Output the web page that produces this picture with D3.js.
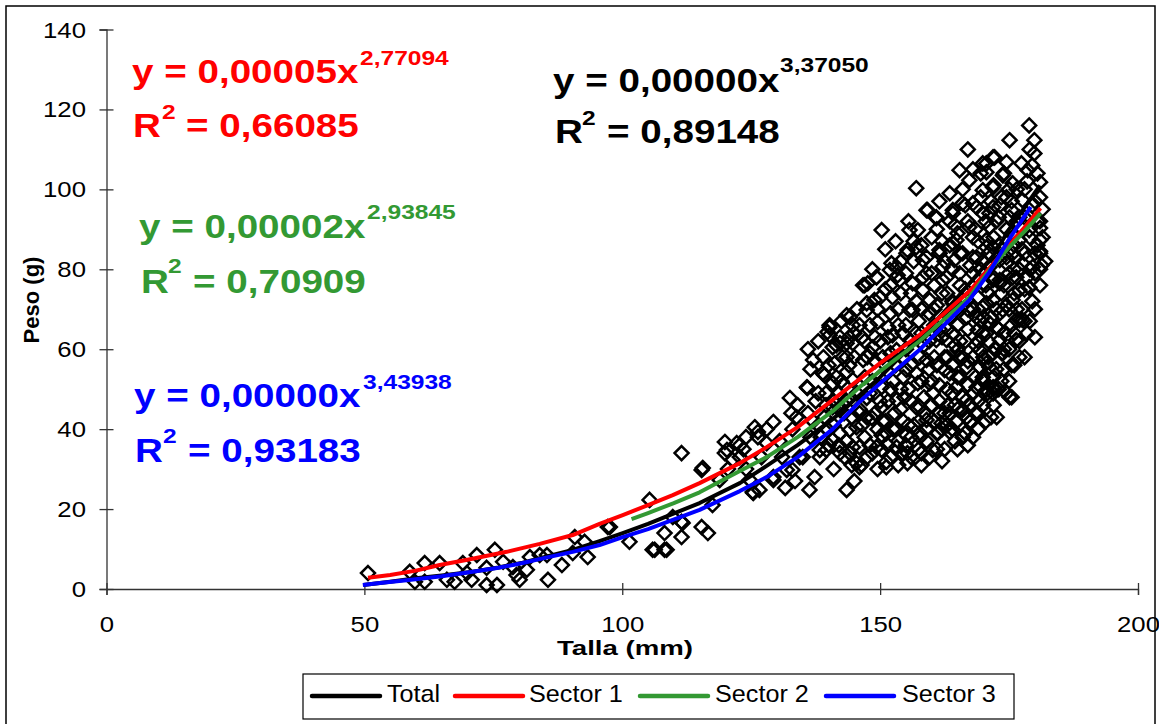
<!DOCTYPE html>
<html>
<head>
<meta charset="utf-8">
<script src="https://cdn.jsdelivr.net/npm/d3@7"></script>
<style>
html,body{margin:0;padding:0;background:#fff;}
svg{display:block;}
text{font-family:"Liberation Sans",Arial,sans-serif;}
</style>
</head>
<body>
<svg id="chart" width="1159" height="724"></svg>
<script>
// ---------- data ----------
const xTicks = [0, 50, 100, 150, 200];
const yTicks = [0, 20, 40, 60, 80, 100, 120, 140];
const seriesNames = ["Total", "Sector 1", "Sector 2", "Sector 3"];
const seriesColors = ["#000000", "#FF0000", "#339933", "#0000FF"];

// scatter observations [Talla (mm), Peso (g)]
const observations = [
[50.7,4.0],[58.8,4.3],[59.8,1.8],[61.7,6.5],[64.6,6.5],[66,2.3],[67.5,1.8],[69.1,6.5],[70.8,2.3],[71.8,8.5],
[73.7,1.0],[75.3,9.8],[75.7,1.0],[73.7,5.3],[76.9,6.8],[79.5,3.5],[80.1,2.3],[81.5,4.8],[82.1,8.0],[84,8.5],
[85.6,2.3],[85.4,8.5],[88.3,6.0],[90.4,9.0],[90.8,13.0],[92.7,11.8],[93.3,8.0],[97.2,15.5],[101.4,11.8],[105.3,22.3],
[105.9,9.8],[108.2,9.8],[108.2,14.0],[109.8,18.0],[111.5,34.0],[111.5,13.0],[111.5,16.8],[115.4,29.8],[115.4,15.5],[116.6,14.0],
[117.5,21.0],[119.9,36.8],[120.3,34.8],[121.4,32.3],[69.9,4.0],[78.8,5.5],[61.7,1.8],[97.6,15.5],[106.3,9.8],[108.6,9.8],
[111.7,16.5],[122.8,36],[125.4,24],[126.3,38],[129.3,41.8],[129.3,27.3],[131.6,25.3],[131.9,29.8],[132.5,47.8],[132.8,44],
[134.4,33],[135.9,50.3],[136.3,24.8],[137.3,28],[137,57.3],[138.3,33],[138.9,54],[139.9,39.8],[140.8,51.5],[141.2,56.5],
[142.2,45.5],[143.1,33],[143.5,61.5],[144.1,39.8],[144.7,35.5],[145.4,31.5],[143.5,54.3],[140.2,63.5],[142.2,63],
[115.6,30.3],[122.2,36.5],[125.3,24.3],[126.3,39.3],[133.8,43],[135.8,50.5],[140.2,66],[139.8,64.3],[139.2,53.5],[139.2,43],
[139.6,34.8],[140.8,37.3],[140.8,45.5],[143.5,68.5],[142.2,61.5],[142.7,58],[142.2,34],[144.7,66],[144.7,61.5],[144.7,52.3],
[145.4,40.5],[146,35.5],[146.4,31],[146.7,76],[147.4,71.5],[147.4,47.8],[148,59],[148.4,42.8],[149.3,78],[149.5,66.8],
[149.9,53],[150.3,45.5],[150.3,38.5],[150.3,34.8],[151.2,31.8],[152.2,81.5],[152.4,73],[152.4,63.5],[152.8,44],[153.2,35.5],
[153.4,78.5],[154.4,58],[154.7,48],[155.1,84],[155.1,38.5],[155.3,34],[156.3,76.5],[156.3,69.8],[157,64],[157.3,51.5],
[157.7,45.5],[157.7,38],[158.3,82.3],[159,57.3],[159,42.3],[159.6,72.3],[160.2,49],[160.2,34.8],[160.5,66],[161.5,84.8],
[161.9,41.5],[162.1,77.3],[162.5,54.8],[162.9,62.3],[163.1,46],[163.5,39.3],[164.1,71.5],[164.4,82.3],[164.8,50.5],[165,59.8],
[166,44.8],[166.8,68],[166.8,55.5],[167.4,41.8],[168,75.5],[168,49],[168.7,83],[168.9,64.8],[169.3,59.8],[169.9,53],
[170.6,71.5],[170.8,49],[171.2,55.5],[171.9,77.3],[171.9,49],[172.6,65.5],[173.2,69],[173.8,59],[175.1,48],[175.7,78],
[176.4,83],[177,67.3],[178,67],[176.4,62.3],[178.9,75.3],[179.6,80.6],[181,84],[181.3,81],
[143.5,24.8],[148.5,34],[138.3,34.8],[135,33],[133,29.8],[129.3,28],[126.6,24.8],[124.7,27.3],[128,36.5],[124,38],
[125.7,40.5],[122.8,33],[118.9,27.3],[119.9,34],
[150.3,89.8],[159.2,94.8],[157.3,89.8],[160.9,92.8],[164.1,94],[166,96.5],[168.7,95.5],[171.2,94],[173.2,96],[175.5,94.8],
[155.3,84.8],[153.2,80.6],[147.6,76.5],[148.9,72.3],[147.4,69.8],[144.1,68],[140.2,65.5],[143.5,58],[140.8,60.5],[138.9,54],
[142.2,39],[144.1,34],[146,30.5],[151.2,39],[154.4,34],[157.7,39],[161.2,39],[164.8,41.8],[166.8,43],[171.9,50.5],
[175.5,48],[173.6,59],[176.4,67.3],[173.2,76.5],[174.5,81.5],[170.6,85.5],[168,88],[164.1,86.5],[161.5,84],[168.7,68],
[166.8,72.3],[162.9,78],[158.3,74.8],[155.7,69.8],[151.6,65.5],[148.6,60.5],[146.7,57.3],[150.3,50.5],[153.2,47.3],[157,45.5],
[159.6,51.5],[163.5,54],[165.4,58],[170.6,64],[168.7,50.5],[166.8,47.3],[164.1,64],[160.9,62.3],[157.7,58],[155.1,54.8],
[153.2,59.8],[154.4,64],[144.7,47.3],[142.2,44.8],[147.4,43],[149.3,35.5],[151.2,30.5],[155.3,31.5],[159.6,33],[161.5,44],
[169.3,55.5],[172.6,43],
[178.9,116],[175.1,112.3],[179.9,112.3],[179.9,109],[171.9,108],[169.9,106.5],[174.5,106.8],[177.4,106.5],[170.6,104.3],[173.8,103.5],
[178.6,104.8],[181,101.8],[175.7,101.5],[171.9,100.5],[169.9,99.8],[181,98],[174.5,98],[177.6,97.3],[171.9,95.5],[169.9,94],
[175.1,93],[181,90.3],[178.9,89.8],[181,87.3],[171.2,90.6],[170.6,87.3],[177,87.3],[181,84.5],[175.7,84],[177.6,81.5],
[173.2,82.3],[171.2,80.6],[169.9,76.5],[173.2,77.3],[176.4,78],[178.9,75.5],[177,74.8],[175.7,72.3],[171.9,72.3],[173.8,69.8],
[169.9,70.5],[177.6,67.3],[171.2,66.5],[169.9,64],[176.4,62.3],[173.2,62.3],[171.9,59],[170.6,56.5],[169.9,52.3],[170.6,49.8],
[171.9,49],
[167,110],[165.4,104.8],[170.6,106.5],[172.2,108],[157,100.3],[163.5,99],[167.3,102.3],[159,94.8],[160.9,93],[155.7,89.8],
[164.1,94.8],[168,96.5],[157,85.5],[161.5,84],[164.8,87.3],[167.3,90.6],[149.3,78],[147,76],[151.9,79.8],[153.8,77.3],
[158.3,78],[162.1,80.6],[165.4,79],[168,83],[171.9,85.5],[175.7,89],
[120.5,30],[123.5,35],[127,33],[130.5,37],[133,40],[134,46],[136,44],[131,33],[128,40],[124,30],[133.5,27],[136.5,38],
[136,60],[137.5,47],[138,62],[139,58],[139.5,49],[140,36],[141,41],[141.5,53],[142,49],[142.5,67],[143,44],[143.5,37],
[144,56],[144.5,43],[145,64],[145.5,49],[145,27],[141,30],[138,41],[136.5,55],
[145.5,70],[146,44],[146.5,63],[147,53],[147,38],[148,66],[148,49],[148.5,80],[149,57],[149,44],[149.5,30],[150,73],
[150,62],[150.5,42],[151,85],[151,56],[151.5,47],[151.5,36],[152,69],[152,59],[152.5,52],[153,40],[153,87],[153.5,66],
[153.5,31],[154,74],[154,50],[154.5,42],[155,60],[155,79],[155,36],[152,76],[147.5,33],
[155.5,92],[156,56],[156,47],[156.5,41],[156.5,82],[157,72],[157.5,35],[157.5,67],[158,52],[158,86],[158.5,44],[158.5,61],
[159,79],[159,37],[159.5,69],[159.5,55],[160,88],[160,46],[160.5,58],[160.5,76],[161,39],[161,71],[161.5,51],[161.5,97],
[162,63],[162,87],[162.5,44],[162.5,35],[163,74],[163,58],[163.5,92],[163.5,68],[164,49],[164,80],[164.5,37],[164.5,61],
[165,89],[165,66],[165,45],
[165.5,76],[165.5,53],[166,100],[166,84],[166.5,62],[166.5,39],[167,92],[167,70],[167,57],[167.5,46],[168,79],[168,105],
[168.5,61],[168.5,44],[169,87],[169,73],[169,40],[169.5,67],[169.5,98],[170,58],[170,46],[170,82],[170.5,92],[171,62],
[171,74],[171.5,43],[172,88],[172,53],[172,101],[172.5,70],[172.5,60],[173,93],[173,50],[173.5,85],[173.5,74],[174,64],
[174,55],[174,104],[174.5,90],[174.5,71],[175,79],[175,60],[175,52],[175.5,97],[175.5,66],
[176,86],[176,74],[176,56],[176.5,92],[176.5,100],[177,80],[177,62],[177.5,70],[178,84],[178,93],[178,58],[178.5,102],
[178.5,78],[179,88],[179,67],[179,110],[179.5,96],[179.5,72],[180,84],[180,79],[180,63],[180.5,92],[180.5,104],[181,76],
[181.5,88],[181.5,95],[182,82],
[152,33],[156,33],[158,31],[162,32],[165,35],[167,36],[163,41],[168,38],
[141,47],[142.5,52],[143.5,47],[144,63],[145,58],[146,66],[146.5,41],[147.5,58],[148.5,52],[149,63],[149.5,70],[150,47],
[150.5,58],[151,75],[151,42],[152,50],[152.5,40],[153,56],[153.5,70],[154,45],[154,82],[154.5,53],[155,66],[155.5,41],
[155.5,50],[156,62],[156,74],[156.5,87],[157,54],[157.5,42],[158,64],[158,70],[158.5,48],[159,83],[159,40],[159.5,62],
[160,52],[160,79],[160.5,42],[160.5,70],[161,56],[161,90],[161.5,65],[161.5,47],[162,74],[162,40],[162.5,58],[162.5,82],
[163,50],[163,65],[163.5,44],[163.5,86],[164,56],[164,72],[164.5,46],[164.5,91],[165,53],[165,70],[165.5,62],[165.5,84],
[166,48],[166,58],[166.5,75],[166.5,96],[167,51],[167,65],[167.5,81],[167.5,42],[168,58],[168,70],[168.5,90],[168.5,53],
[169,47],[169,62],[169.5,80],[169.5,104],[170,68],[170,52],[170.5,76],[170.5,42],[171,84],[171,58],[171.5,97],[171.5,68],
[172,78],[172,46],[172.5,55],[172.5,92],[173,65],[173,86],[173.5,52],[173.5,98],[174,76],[174,60],[174.5,83],[174.5,49],
[175,70],[175,100],[175.5,56],[175.5,89],[176,64],[176,80],[176.5,70],[177,93],[177,58],[177.5,85],[178,75],[178,100],
[178.5,64],[179,80],[179,93],[179.5,106],[180,70],[180,97],[180.5,86],[181,92],[181,80],[137,42],[138,49],[138.5,38],
[139.5,46],[140,56],[141.5,61],[142,36],[143,51],[144.5,31],[146,45],[147,62],[148,36],[149.5,40],[151.5,63],[153.5,37],
[156,38],[158,34],[161,35],[164,40],[166,38],[169,44],[172,50]
];

// fitted curves [Talla, Peso]
const totalLine = [[49.8,1.0],[55,1.8],[60,2.7],[65,3.4],[71,4.3],[76,5.4],[80.7,6.6],[85,8.0],[90.4,9.8],[95.6,12],[100.1,14],[105,16.3],[109.8,18.8],[115,21.5],[122.8,26.5],[128,30.8],[134,36],[140.8,42.5],[146,48.5],[150,53],[155,59.5],[160,66],[165,73],[170,80.5],[172,83.5],[175,90],[178,95.5],[181,101]];
const sector1Line = [[50.7,2.8],[55,3.5],[60,4.6],[64.6,6.0],[70,7.3],[77.6,9.3],[84,11.3],[90.4,13.5],[95.6,16.3],[100.1,18.5],[105,21],[109.8,23.5],[115,26.5],[122.8,31.5],[128,35.5],[134,40.5],[138,44.5],[142,48.5],[146,52.5],[150,56.5],[157.6,63.5],[162,68.5],[167.3,74.5],[171.2,80.3],[175,86],[178,90.5],[181.1,95.3]];
const sector2Line = [[101.8,17.5],[105,19],[110,21.5],[115,24.2],[122.8,29.5],[128,33],[134,38],[140.8,44.5],[146,50.5],[150,54.5],[157.6,62],[162,67],[167.3,73],[171.2,79.8],[175,85.5],[178,89.5],[181.1,94]];
const sector3Line = [[49.7,1.0],[53,1.5],[58.2,2.2],[65,3.2],[71,4.3],[76,5.3],[80.7,6.5],[85,7.8],[90.4,9.3],[95.6,11],[100.1,13],[105,15],[109.8,17.3],[115,19.8],[122.8,24.5],[128,28],[134,33],[140.8,40],[146,46.8],[150,51.5],[157.6,59.8],[162,65.5],[167.3,72.3],[171.2,79.3],[175,87.5],[179.2,95.6]];
const seriesLines = [totalLine, sector1Line, sector2Line, sector3Line];

// equation labels
const equations = [
  {coef:"y = 0,00005x", exp:"2,77094", r2:"= 0,66085", color:"#FF0000"},
  {coef:"y = 0,00002x", exp:"2,93845", r2:"= 0,70909", color:"#339933"},
  {coef:"y = 0,00000x", exp:"3,43938", r2:"= 0,93183", color:"#0000FF"},
  {coef:"y = 0,00000x", exp:"3,37050", r2:"= 0,89148", color:"#000000"}
];

// ---------- drawing ----------
const svg = d3.select("#chart");
const SX = 1.17; // horizontal stretch of all text in the original

const x = d3.scaleLinear().domain([0, 200]).range([106.5, 1138]);
const y = d3.scaleLinear().domain([0, 140]).range([589, 29.5]);

function stxt(parent, px, py, s, size, fill, weight, sx, anchor) {
  return parent.append("text")
    .attr("transform", `translate(${px},${py}) scale(${sx},1)`)
    .attr("font-size", size)
    .attr("font-weight", weight || "normal")
    .attr("fill", fill || "#000")
    .attr("text-anchor", anchor || "start")
    .text(s);
}

// outer chart border
svg.append("rect").attr("x", 6).attr("y", 6).attr("width", 1149).attr("height", 730)
  .attr("fill", "none").attr("stroke", "#000").attr("stroke-width", 1.5);

// axes
const gx = svg.append("g").attr("transform", `translate(0,${y(0)})`)
  .call(d3.axisBottom(x).tickValues(xTicks).tickSize(6).tickFormat(d3.format("d")));
gx.select(".domain").attr("stroke", "#333").attr("stroke-width", 1.3);
gx.selectAll(".tick line").attr("y1", -6).attr("y2", 6).attr("stroke", "#333").attr("stroke-width", 1.3);
gx.selectAll(".tick text").attr("y", null).attr("dy", null)
  .attr("transform", `translate(0,43) scale(${SX},1)`)
  .attr("font-size", 22).attr("fill", "#000").attr("font-family", "Liberation Sans, Arial, sans-serif");

const gy = svg.append("g").attr("transform", `translate(${x(0)},0)`)
  .call(d3.axisLeft(y).tickValues(yTicks).tickSize(7).tickFormat(d3.format("d")));
gy.select(".domain").attr("stroke", "#333").attr("stroke-width", 1.3);
gy.selectAll(".tick line").attr("x1", -7).attr("x2", 7).attr("stroke", "#333").attr("stroke-width", 1.3);
gy.selectAll(".tick text").attr("x", null).attr("dy", null)
  .attr("transform", `translate(-20.5,7.5) scale(${SX},1)`)
  .attr("font-size", 22).attr("fill", "#000").attr("font-family", "Liberation Sans, Arial, sans-serif");

// axis titles
svg.append("text").attr("x", 625).attr("y", 655).attr("text-anchor", "middle")
  .attr("font-size", 21).attr("font-weight", "bold").attr("textLength", 136).attr("lengthAdjust", "spacingAndGlyphs")
  .text("Talla (mm)");
svg.append("text").attr("transform", "translate(39,300) rotate(-90)").attr("text-anchor", "middle")
  .attr("font-size", 22).attr("font-weight", "bold").text("Peso (g)");

// scatter diamonds
const diamond = "M0,-7L7,0L0,7L-7,0Z";
svg.append("g").selectAll("path").data(observations).join("path")
  .attr("d", diamond)
  .attr("transform", d => `translate(${x(d[0])},${y(d[1])})`)
  .attr("fill", "none").attr("stroke", "#000").attr("stroke-width", 2.5);

// fitted lines
const line = d3.line().x(d => x(d[0])).y(d => y(d[1]));
seriesLines.forEach((s, i) => {
  svg.append("path").datum(s).attr("d", line)
    .attr("fill", "none").attr("stroke", seriesColors[i]).attr("stroke-width", 4)
    .attr("stroke-linejoin", "round").attr("stroke-linecap", "butt");
});

// equations
const eqPos = [
  {cx:132, cy:83, ex:360, ey:65, rx:133, ry:137, r2x:162, r2y:119, qx:186},
  {cx:139, cy:238, ex:367, ey:219, rx:141, ry:293, r2x:168, r2y:273, qx:193},
  {cx:134, cy:407, ex:363, ey:389, rx:135, ry:462, r2x:163, r2y:443, qx:188},
  {cx:553, cy:92, ex:780, ey:72, rx:555, ry:143, r2x:582, r2y:125, qx:607}
];
equations.forEach((e, i) => {
  const p = eqPos[i];
  const g = svg.append("g");
  stxt(g, p.cx, p.cy, e.coef, 33, e.color, "bold", SX);
  stxt(g, p.ex, p.ey, e.exp, 21, e.color, "bold", SX);
  stxt(g, p.rx, p.ry, "R", 33, e.color, "bold", SX);
  stxt(g, p.r2x, p.r2y, "2", 21, e.color, "bold", SX);
  stxt(g, p.qx, p.ry, e.r2, 33, e.color, "bold", SX);
});

// legend
const lg = svg.append("g");
lg.append("rect").attr("x", 303).attr("y", 674).attr("width", 711).attr("height", 45)
  .attr("fill", "#fff").attr("stroke", "#000").attr("stroke-width", 1.2);
const legX = [312, 455, 640, 826];
const legTX = [387, 529, 715, 902];
seriesNames.forEach((n, i) => {
  lg.append("line").attr("x1", legX[i]).attr("x2", legX[i] + 68).attr("y1", 696).attr("y2", 696)
    .attr("stroke", seriesColors[i]).attr("stroke-width", 4.5).attr("stroke-linecap", "round");
  stxt(lg, legTX[i], 702, n, 24, "#000", "normal", 1.05);
});
</script>
</body>
</html>
